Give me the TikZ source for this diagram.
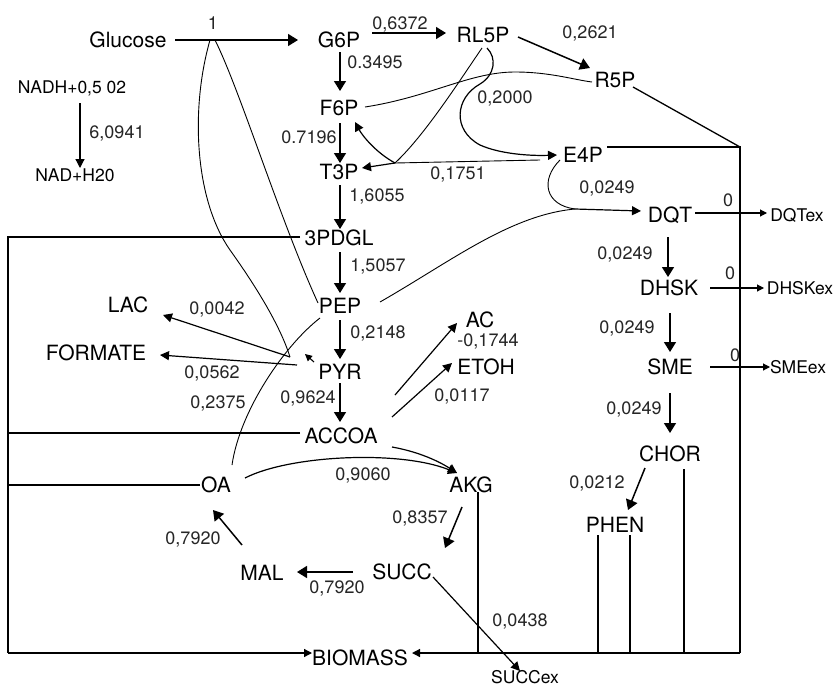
\documentclass[tikz,border=0pt]{standalone}
\usepackage{fontspec}
\setmainfont{TeX Gyre Heros}
\usetikzlibrary{arrows.meta,calc}
\begin{document}
\begin{tikzpicture}[x=1pt,y=-1pt,
  nm/.style={font=\fontsize{21}{24}\selectfont, inner sep=0pt, text height=15pt, text depth=0pt},
  num/.style={font=\fontsize{18}{20}\selectfont, inner sep=0pt, text height=12.6pt, text depth=0pt, text=black!85},
  sm/.style={font=\fontsize{17.5}{20}\selectfont, inner sep=0pt, text height=12.6pt, text depth=0pt},
  arr/.style={line width=1.5pt, -{Triangle[length=10pt,width=12pt]}},
  arrm/.style={line width=1.2pt, -{Triangle[length=9pt,width=9pt]}},
  arrs/.style={line width=1.1pt, -{Triangle[length=7pt,width=7pt]}},
  curve/.style={line width=0.9pt},
  frame/.style={line width=1.3pt},
]
\fill[white] (0,0) rectangle (835,688);
\useasboundingbox (0,0) rectangle (835,688);

% metabolites
\node[nm] (Glucose) at (128,40) {Glucose};
\node[nm] (G6P) at (339,40) {G6P};
\node[nm] (RL5P) at (483,35) {RL5P};
\node[nm] (R5P) at (615,80) {R5P};
\node[nm] (F6P) at (339,108) {F6P};
\node[nm] (T3P) at (339,172) {T3P};
\node[nm] (E4P) at (583,155) {E4P};
\node[nm] (PDGL) at (339,238) {3PDGL};
\node[nm] (PEP) at (340,306) {PEP};
\node[nm] (PYR) at (340,372) {PYR};
\node[nm] (ACCOA) at (341,436) {ACCOA};
\node[nm] (OA) at (216,485) {OA};
\node[nm] (AKG) at (471,485) {AKG};
\node[nm] (SUCC) at (402,572) {SUCC};
\node[nm] (MAL) at (262,573) {MAL};
\node[nm] (BIOMASS) at (360,658) {BIOMASS};
\node[nm] (LAC) at (128,305) {LAC};
\node[nm] (FORMATE) at (96,353) {FORMATE};
\node[nm] (AC) at (480,320) {AC};
\node[nm] (ETOH) at (486,367) {ETOH};
\node[nm] (DQT) at (670,215) {DQT};
\node[nm] (DHSK) at (669,288) {DHSK};
\node[nm] (SME) at (670,367) {SME};
\node[nm] (CHOR) at (670,454) {CHOR};
\node[nm] (PHEN) at (615,525) {PHEN};
\node[sm] (DQTex) at (797,215) {DQTex};
\node[sm] (DHSKex) at (800,288) {DHSKex};
\node[sm] (SMEex) at (798,367) {SMEex};
\node[sm] (SUCCex) at (525,677) {SUCCex};
\node[sm] (NADH) at (72,87) {NADH+0,5 02};
\node[sm] (NAD) at (75,175) {NAD+H20};

% flux labels
\node[num] (n01) at (213,23) {1};
\node[num] (n02) at (400,23) {0,6372};
\node[num] (n03) at (590,32) {0,2621};
\node[num] (n04) at (375,62) {0.3495};
\node[num] (n05) at (505,97) {0,2000};
\node[num] (n06) at (309,137) {0.7196};
\node[num] (n07) at (458,173) {0,1751};
\node[num] (n08) at (607,187) {0,0249};
\node[num] (n09) at (377,195) {1,6055};
\node[num] (n10) at (728,200) {0};
\node[num] (n11) at (117,132) {6,0941};
\node[num] (n12) at (625,253) {0,0249};
\node[num] (n13) at (378,265) {1,5057};
\node[num] (n14) at (730,273) {0};
\node[num] (n15) at (217,308) {0,0042};
\node[num] (n16) at (378,332) {0,2148};
\node[num] (n17) at (627,327) {0,0249};
\node[num] (n18) at (488,340) {-0,1744};
\node[num] (n19) at (212,372) {0,0562};
\node[num] (n20) at (735,355) {0};
\node[num] (n21) at (308,397) {0,9624};
\node[num] (n22) at (462,395) {0,0117};
\node[num] (n23) at (218,402) {0,2375};
\node[num] (n24) at (634,408) {0,0249};
\node[num] (n25) at (363,474) {0,9060};
\node[num] (n26) at (597,482) {0,0212};
\node[num] (n27) at (420,517) {0,8357};
\node[num] (n28) at (193,538) {0,7920};
\node[num] (n29) at (337,587) {0,7920};
\node[num] (n30) at (520,620) {0,0438};

% junctions
\coordinate (J0) at ($(Glucose)+(85,0)$);
\coordinate (J1) at ($(T3P)+(56,-9)$);
\coordinate (J2) at ($(PYR)+(-50,-15)$);
\coordinate (J4) at ($(DQT)+(-95,-6)$);
\coordinate (C1) at (740,147);
\coordinate (C2) at (740,653);
\coordinate (L1) at (8,237);
\coordinate (L2) at (8,653);

% frame to biomass
\draw[frame] ($(R5P)+(18,7)$) -- (C1);
\draw[frame] ($(E4P)+(24,-8)$) -- (C1) -- (C2);
\draw[frame,-{Triangle[length=8pt,width=8pt]}] (C2) -- ($(BIOMASS)+(52,-5)$);
\draw[frame] ($(PDGL)+(-39,-1)$) -- (L1) -- (L2);
\draw[frame,-{Triangle[length=8pt,width=8pt]}] (L2) -- ($(BIOMASS)+(-48,-5)$);
\draw[frame] ($(ACCOA)+(-41,-3)$) -| (L1);
\draw[frame] ($(OA)+(-16,0)$) -| (L1);
\draw[frame] ($(AKG)+(7,7)$) |- (C2);
\draw[frame] ($(CHOR)+(14,15)$) |- (C2);
\draw[frame] ($(PHEN)+(-17,10)$) |- (C2);
\draw[frame] ($(PHEN)+(15,10)$) |- (C2);

% main chain
\draw[arr] ($(Glucose)+(47,0)$) -- ($(G6P)+(-41,0)$);
\draw[arr] ($(G6P)+(33,-7)$) -- ($(RL5P)+(-37,-2)$);
\draw[arr] ($(RL5P)+(35,2)$) -- ($(R5P)+(-25,-12)$);
\draw[arr] ($(G6P)+(1,12)$) -- ($(F6P)+(1,-17)$);
\draw[arr] ($(F6P)+(1,15)$) -- ($(T3P)+(1,-9)$);
\draw[arr] ($(T3P)+(1,13)$) -- ($(PDGL)+(1,-9)$);
\draw[arr] ($(PDGL)+(1,14)$) -- ($(PEP)+(0,-13)$);
\draw[arr] ($(PEP)+(0,14)$) -- ($(PYR)+(0,-13)$);
\draw[arr] ($(PYR)+(0,11)$) -- ($(ACCOA)+(-1,-14)$);
\draw[arrm] ($(NADH)+(8,16)$) -- ($(NAD)+(5,-7)$);

% pentose phosphate curves
\draw[curve] ($(RL5P)+(-1,13)$) .. controls (460,80) and (425,135) .. (J1);
\draw[curve] ($(E4P)+(-43,5)$) -- (J1);
\draw[arrm] (J1) -- ($(T3P)+(23,-4)$);
\draw[arrm] (J1) .. controls (375,152) and (362,135) .. ($(F6P)+(16,14)$);
\draw[arrm] ($(RL5P)+(4,13)$) .. controls (497,58) and (495,75) .. (480,84)
  .. controls (455,98) and (452,130) .. (480,145)
  .. controls (500,154) and (530,156) .. ($(E4P)+(-26,0)$);
\draw[curve] ($(F6P)+(26,-1)$) .. controls (430,97) and (470,72) .. (515,72)
  .. controls (550,72) and (575,80) .. ($(R5P)+(-23,2)$);

% to DQT
\draw[curve] ($(E4P)+(-23,5)$) .. controls (540,180) and (545,205) .. (J4);
\draw[curve] ($(PEP)+(40,-4)$) .. controls (450,262) and (510,215) .. (J4);
\draw[arrm] (J4) -- ($(DQT)+(-29,-4)$);

% aromatic branch
\draw[arrs] ($(DQT)+(25,-2)$) -- ($(DQTex)+(-30,-2)$);
\draw[arrs] ($(DHSK)+(41,0)$) -- ($(DHSKex)+(-36,0)$);
\draw[arrs] ($(SME)+(40,0)$) -- ($(SMEex)+(-28,0)$);
\draw[arr] ($(DQT)+(-2,22)$) -- ($(DHSK)+(-1,-11)$);
\draw[arr] ($(DHSK)+(1,25)$) -- ($(SME)+(0,-15)$);
\draw[arr] ($(SME)+(0,26)$) -- ($(CHOR)+(0,-21)$);
\draw[arr] ($(CHOR)+(-25,14)$) -- ($(PHEN)+(13,-15)$);

% TCA
\draw[arr] ($(AKG)+(-9,22)$) -- ($(SUCC)+(43,-24)$);
\draw[arr] ($(SUCC)+(-49,0)$) -- ($(MAL)+(35,-1)$);
\draw[arr] ($(MAL)+(-20,-28)$) -- ($(OA)+(-3,25)$);
\draw[arrm] ($(SUCC)+(31,5)$) -- ($(SUCCex)+(-5,-6)$);
\draw[arrm] ($(OA)+(29,-7)$) .. controls (290,455) and (400,450) .. ($(AKG)+(-14,-12)$);
\draw[arrm] ($(ACCOA)+(51,11)$) .. controls (420,452) and (440,462) .. ($(AKG)+(-14,-12)$);
\draw[curve] ($(PEP)+(-20,12)$) .. controls (285,345) and (240,410) .. ($(OA)+(16,-20)$);

% glucose uptake loops
\draw[curve] ($(J0)+(2,0)$) .. controls (240,90) and (280,220) .. ($(PEP)+(-22,-3)$);
\draw[curve] ($(J0)+(-3,0)$) .. controls (190,110) and (195,200) .. (230,250)
  .. controls (255,285) and (280,325) .. (J2);

% fermentation products
\draw[arrm] (J2) -- ($(LAC)+(35,10)$);
\draw[arrm] ($(PYR)+(-43,-7)$) -- ($(FORMATE)+(64,2)$);
\draw[arrs] ($(PYR)+(-26,-10)$) -- ($(PYR)+(-35,-18)$);
\draw[arrm] ($(ACCOA)+(54,-41)$) -- ($(AC)+(-23,3)$);
\draw[arrm] ($(ACCOA)+(51,-19)$) -- ($(ETOH)+(-34,-4)$);
\end{tikzpicture}
\end{document}
